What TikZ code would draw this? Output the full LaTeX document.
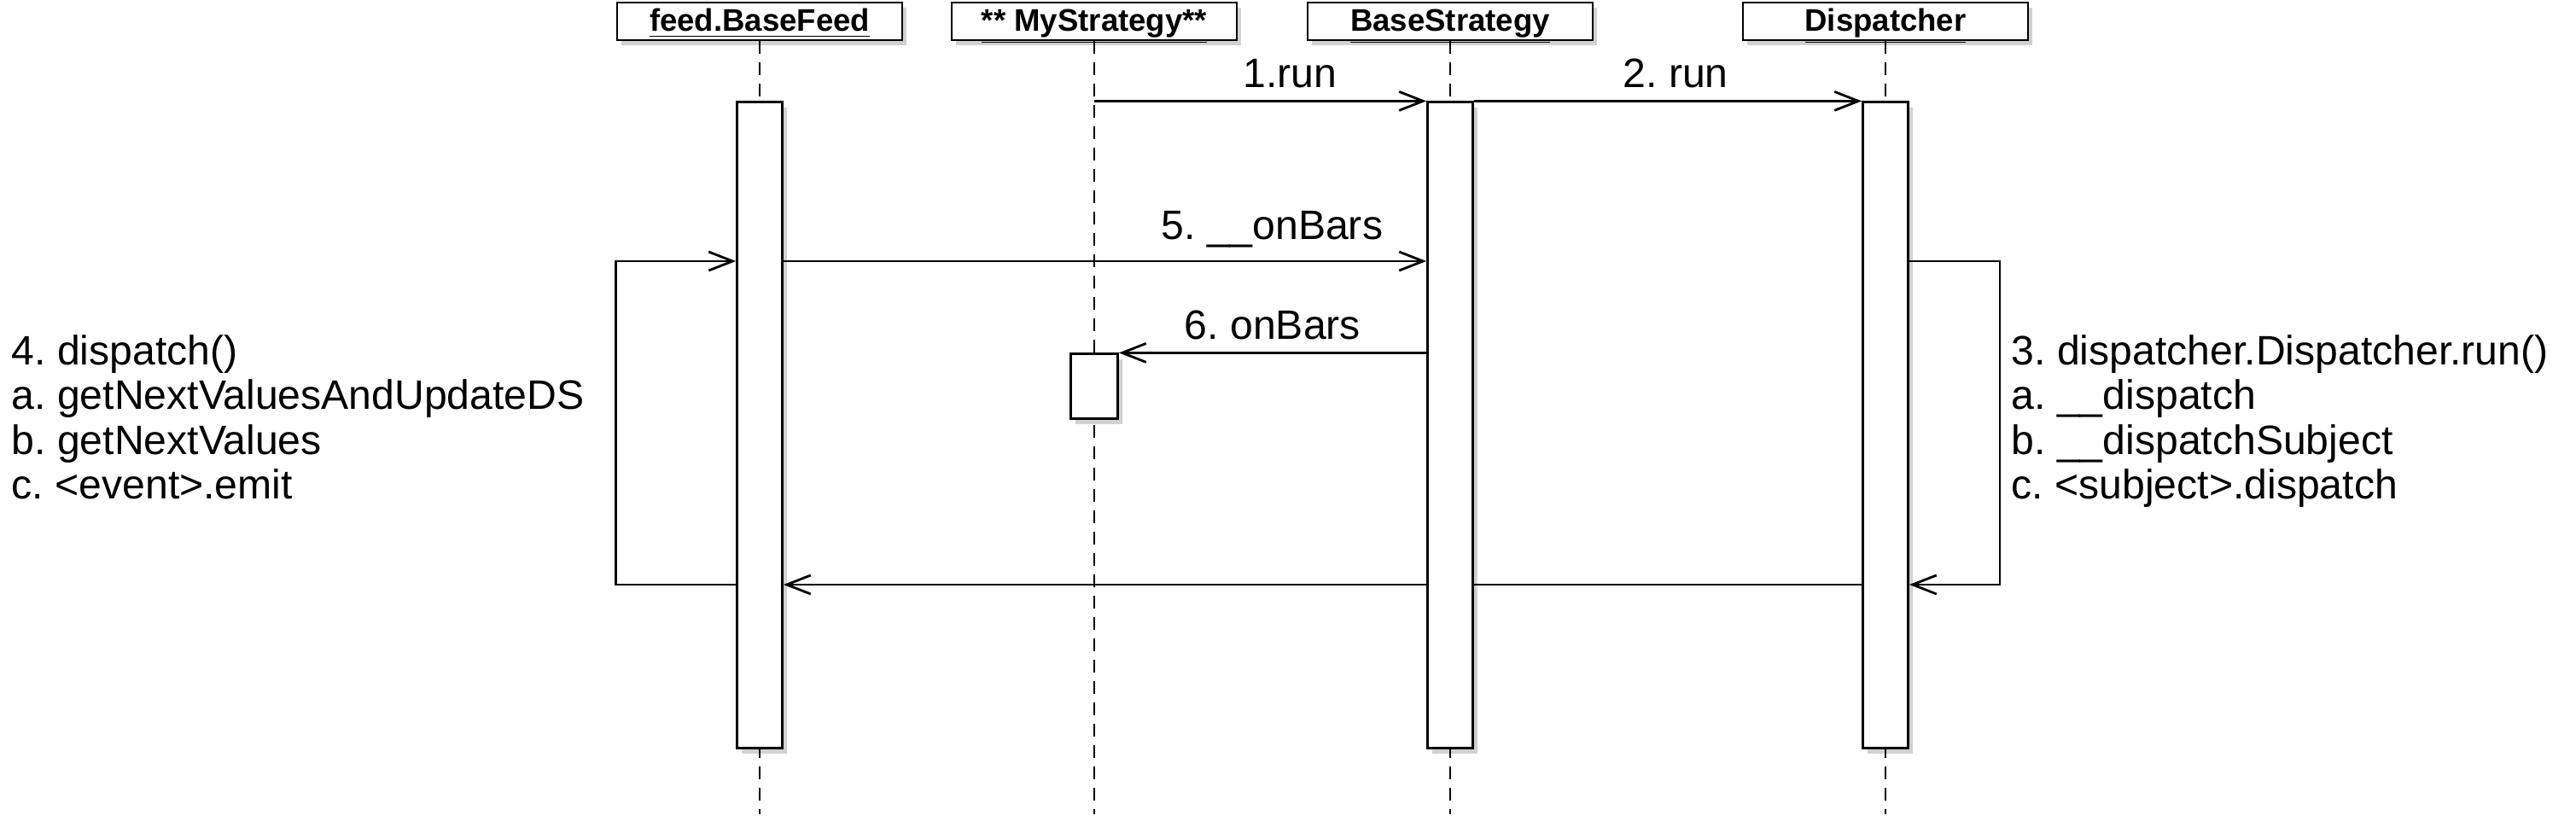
\documentclass[tikz,border=0pt]{standalone}
\usepackage{fontspec}
\setmainfont{Liberation Sans}
\usetikzlibrary{arrows.meta,positioning,backgrounds,shadows}
\frenchspacing

\begin{document}
\begin{tikzpicture}[
  font=\fontsize{13.7}{14.9}\selectfont,
  shadowed/.style={drop shadow={shadow xshift=.5mm,shadow yshift=-.6mm,fill=black,opacity=.18}},
  obj/.style={draw,fill=white,line width=.8pt,minimum width=3.34cm,minimum height=4.4mm,inner sep=0pt,text height=2.4mm,text depth=0pt,font=\fontsize{10.4}{12}\selectfont\bfseries,shadowed},
  act/.style={draw,fill=white,line width=.8pt,minimum width=5.3mm,inner sep=0pt,shadowed},
  life/.style={line width=.8pt,dash pattern=on 1.5mm off 1mm},
  msg/.style={line width=.8pt,-{Straight Barb[length=2.8mm,width=2.2mm]}},
  lbl/.style={above,inner sep=4pt},
  note/.style={align=left,inner sep=0pt,anchor=north west}
]
\useasboundingbox (0,0) rectangle (30.18,-9.76);
% objects
\node[obj] (feed) at (8.90,-0.25) {\underline{feed.BaseFeed}};
\node[obj] (mystrat) at (12.82,-0.25) {\underline{** MyStrategy**}};
\node[obj] (strat) at (16.99,-0.25) {\underline{BaseStrategy}};
\node[obj] (disp) at (22.09,-0.25) {\underline{Dispatcher}};
% activations
\node[act,minimum height=7.57cm,below=7mm of feed] (feedact) {};
\node[act,minimum height=7.57cm,below=7mm of strat] (stratact) {};
\node[act,minimum height=7.57cm,below=7mm of disp] (dispact) {};
\node[act,minimum width=5.5mm,minimum height=7.6mm,below=3.65cm of mystrat] (myact) {};
% message levels
\coordinate (m5) at (0,-3.06);
\coordinate (ret) at (0,-6.85);
\coordinate (loopdisp) at (23.43,-6.85);
% notes
\node[note] (feednote) at (0.13,-3.92) {4. dispatch()\\a. getNextValuesAndUpdateDS\\b. getNextValues\\c. <event>.emit};
\node[note] (dispnote) at (23.56,-3.92) {3. dispatcher.Dispatcher.run()\\a. \_\_dispatch\\b. \_\_dispatchSubject\\c. <subject>.dispatch};
% lifelines and messages go under the activation boxes
\begin{scope}[on background layer]
  \foreach \o in {feed,mystrat,strat,disp}
    \draw[life] (\o.south) -- ++(0,-9.06);
  \draw[msg] (mystrat |- stratact.north) -- node[lbl,pos=.59]{1.run} (stratact.north west);
  \draw[msg] (stratact.north east) -- node[lbl,pos=.52]{2. run} (dispact.north west);
  \draw[msg] (feedact.east |- m5) -- node[lbl,pos=.76]{5. \_\_onBars} (stratact.west |- m5);
  \draw[msg] (stratact.west |- myact.north) -- node[lbl,pos=.5]{6. onBars} (myact.north east);
  \draw[msg] (dispact.west |- ret) -- (feedact.east |- ret);
  \draw[msg] (feedact.west |- ret) -| (feed.west |- m5) -- (feedact.west |- m5);
  \draw[msg] (dispact.east |- m5) -| (loopdisp) -- (dispact.east |- ret);
\end{scope}
\end{tikzpicture}
\end{document}
